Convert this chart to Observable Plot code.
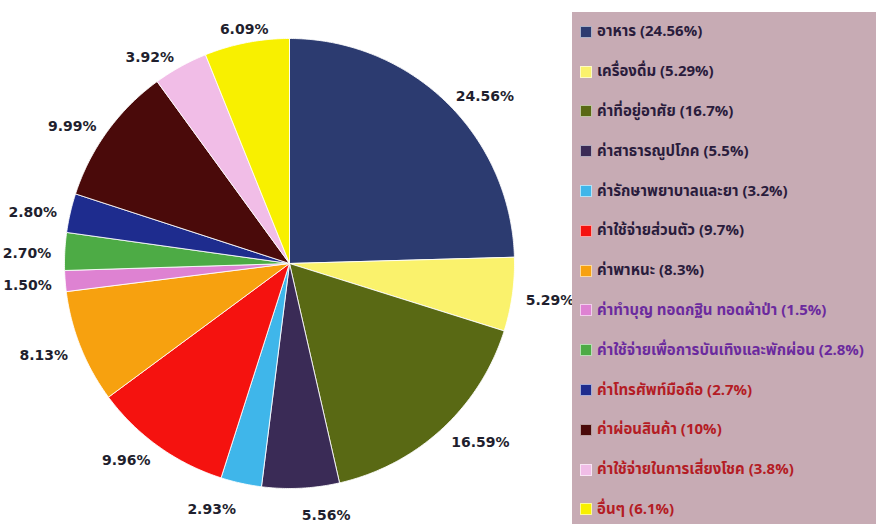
<!DOCTYPE html>
<html>
<head>
<meta charset="utf-8">
<script src="https://cdn.jsdelivr.net/npm/d3@7"></script>
<script src="https://cdn.jsdelivr.net/npm/@observablehq/plot@0.6"></script>
<style>
  html, body { margin: 0; padding: 0; background: #ffffff; }
  #wrap { position: relative; width: 876px; height: 524px; overflow: hidden; }
  #chart { position: absolute; left: 0; top: 0; }
  #legend {
    position: absolute; left: 572px; top: 12px; width: 304px; height: 512px;
    background: #c7abb4; box-sizing: border-box; padding-top: 0px;
    font-family: "Noto Sans Thai", "Tahoma", "DejaVu Sans", sans-serif;
    font-weight: bold; font-size: 15px;
  }
  .item { display: flex; align-items: center; height: 39.8px; padding-left: 8px; white-space: pre; }
  .sw { width: 10px; height: 10px; margin-right: 5px; border: 1px solid rgba(255,255,255,0.6); flex: none; }
</style>
</head>
<body>
<div id="wrap">
  <div id="chart"></div>
  <div id="legend"></div>
</div>
<script>
// Categories (clockwise from 12 o'clock)
const names = [
  "อาหาร",
  "เครื่องดื่ม",
  "ค่าที่อยู่อาศัย",
  "ค่าสาธารณูปโภค",
  "ค่ารักษาพยาบาลและยา",
  "ค่าใช้จ่ายส่วนตัว",
  "ค่าพาหนะ",
  "ค่าทำบุญ ทอดกฐิน ทอดผ้าป่า",
  "ค่าใช้จ่ายเพื่อการบันเทิงและพักผ่อน",
  "ค่าโทรศัพท์มือถือ",
  "ค่าผ่อนสินค้า",
  "ค่าใช้จ่ายในการเสี่ยงโชค",
  "อื่นๆ"
];
// Slice values (percent, as labelled on the pie)
const values = [24.56, 5.29, 16.59, 5.56, 2.93, 9.96, 8.13, 1.50, 2.70, 2.80, 9.99, 3.92, 6.09];
// Slice labels as printed on the pie
const sliceLabels = ["24.56%", "5.29%", "16.59%", "5.56%", "2.93%", "9.96%", "8.13%", "1.50%", "2.70%", "2.80%", "9.99%", "3.92%", "6.09%"];
// Legend percentages as printed in the legend
const legendPct = ["24.56%", "5.29%", "16.7%", "5.5%", "3.2%", "9.7%", "8.3%", "1.5%", "2.8%", "2.7%", "10%", "3.8%", "6.1%"];
// Colours
const colors = ["#2c3b70", "#faf26c", "#596914", "#3a2b56", "#3fb6ea", "#f5120f", "#f7a10f", "#de82d2", "#4dab45", "#1e2c8e", "#4a0a0a", "#f1bde7", "#f8f000"];
const legendTextColors = ["#2a1c3c", "#2a1c3c", "#2a1c3c", "#2a1c3c", "#2a1c3c", "#2a1c3c", "#2a1c3c", "#6b2a9e", "#6b2a9e", "#b41c24", "#b41c24", "#b41c24", "#b41c24"];

// Build slice polygons from values
const total = d3.sum(values);
const slices = [];
const labels = [];
let acc = 0;
values.forEach((v, i) => {
  const a0 = acc / total * 2 * Math.PI;
  acc += v;
  const a1 = acc / total * 2 * Math.PI;
  slices.push({name: names[i], x: 0, y: 0});
  const n = Math.max(2, Math.ceil((a1 - a0) / (Math.PI / 360)));
  for (let k = 0; k <= n; k++) {
    const a = a0 + (a1 - a0) * k / n;
    slices.push({name: names[i], x: Math.sin(a), y: Math.cos(a)});
  }
  slices.push({name: names[i], x: 0, y: 0});
  const am = (a0 + a1) / 2;
  const deg = am * 180 / Math.PI;
  const anchor = (deg > 15 && deg < 180) ? "start" : (deg >= 180 && deg < 345) ? "end" : "middle";
  const r = 1.06 + (Math.cos(am) < -0.9 ? 0.045 : 0);
  labels.push({text: sliceLabels[i], x: r * Math.sin(am), y: r * Math.cos(am), anchor});
});

const textStyle = {fontFamily: "DejaVu Sans, Verdana, sans-serif", fontWeight: "bold", fontSize: 14, fill: "#1f1f2e"};

const chart = Plot.plot({
  width: 876,
  height: 524,
  margin: 0,
  x: {domain: [-1, 1], range: [64, 514], axis: null},
  y: {domain: [-1, 1], range: [488, 38], axis: null},
  color: {domain: names, range: colors},
  marks: [
    Plot.line(slices, {x: "x", y: "y", z: "name", fill: "name", stroke: "white", strokeWidth: 1, strokeOpacity: 0.85, curve: "linear"}),
    Plot.text(labels.filter(d => d.anchor === "start"), {x: "x", y: "y", text: "text", textAnchor: "start", dy: 4, ...textStyle}),
    Plot.text(labels.filter(d => d.anchor === "end"), {x: "x", y: "y", text: "text", textAnchor: "end", dy: 3, ...textStyle}),
    Plot.text(labels.filter(d => d.anchor === "middle"), {x: "x", y: "y", text: "text", textAnchor: "middle", dy: 0, ...textStyle})
  ]
});
document.getElementById("chart").appendChild(chart);

// Legend
const legend = d3.select("#legend");
names.forEach((n, i) => {
  const row = legend.append("div").attr("class", "item");
  row.append("div").attr("class", "sw").style("background", colors[i]);
  row.append("span").style("color", legendTextColors[i]).text(`${n} (${legendPct[i]})`);
});
</script>
</body>
</html>
